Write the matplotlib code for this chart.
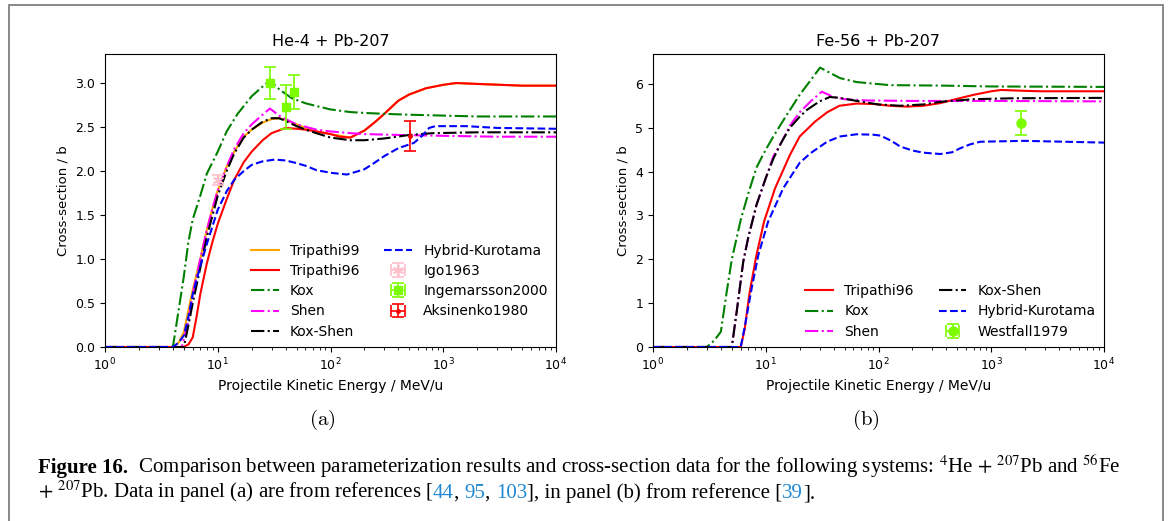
import matplotlib
matplotlib.use("Agg")
import matplotlib.pyplot as plt
from matplotlib.patches import Rectangle

# ---- He-4 + Pb-207 (panel a) ----
trip99_a_e = [1, 4.0, 4.5, 5.0, 5.5, 6.0, 7.0, 8.0, 9.0, 10, 12, 14, 17, 20, 25, 30, 35, 40, 50, 60, 75, 100,
              150, 200, 250, 300, 400, 500, 700, 1000, 1300, 2000, 5000, 10000]
trip99_a_v = [0, 0, 0.05, 0.17, 0.42, 0.65, 1.0, 1.33, 1.58, 1.78, 2.05, 2.22, 2.39, 2.47, 2.55, 2.59, 2.6, 2.58,
              2.53, 2.49, 2.45, 2.42, 2.38, 2.46, 2.56, 2.65, 2.8, 2.87, 2.94, 2.98, 3.0, 2.99, 2.97, 2.97]

trip96_a_e = [1, 5.0, 5.5, 6.0, 6.5, 7.0, 8.0, 9.0, 10, 12, 14, 17, 20, 25, 30, 40, 50, 60, 75, 100, 120,
              150, 200, 250, 300, 400, 500, 700, 1000, 1300, 2000, 5000, 10000]
trip96_a_v = [0, 0, 0.03, 0.11, 0.35, 0.6, 0.95, 1.2, 1.4, 1.68, 1.9, 2.1, 2.22, 2.35, 2.43, 2.49, 2.48, 2.47,
              2.45, 2.42, 2.39, 2.38, 2.46, 2.56, 2.65, 2.8, 2.87, 2.94, 2.98, 3.0, 2.99, 2.97, 2.97]

kox_a_e = [1, 4.0, 4.5, 5.0, 5.5, 6.0, 7.0, 8.0, 10, 12, 15, 20, 25, 29, 35, 45, 60, 80, 100, 150, 200, 300,
           500, 1000, 2000, 5000, 10000]
kox_a_v = [0, 0, 0.42, 0.8, 1.2, 1.45, 1.72, 1.97, 2.22, 2.45, 2.65, 2.85, 2.96, 3.03, 2.93, 2.83, 2.77, 2.73,
           2.7, 2.67, 2.66, 2.65, 2.64, 2.63, 2.62, 2.62, 2.62]

shen_a_e = [1, 4.8, 5.5, 6.0, 7.0, 8.0, 9.0, 10, 12, 14, 17, 20, 25, 29, 35, 40, 50, 75, 100, 150, 200, 400,
            1000, 3000, 10000]
shen_a_v = [0, 0, 0.3, 0.6, 1.0, 1.33, 1.58, 1.78, 2.05, 2.25, 2.43, 2.53, 2.64, 2.71, 2.63, 2.59, 2.53, 2.47,
            2.45, 2.43, 2.42, 2.41, 2.4, 2.39, 2.39]

koxshen_a_e = [1, 5.0, 5.5, 6.0, 7.0, 8.0, 9.0, 10, 12, 14, 17, 20, 25, 30, 35, 40, 50, 60, 75, 100, 150, 200,
               300, 500, 800, 2000, 10000]
koxshen_a_v = [0, 0, 0.25, 0.5, 0.9, 1.25, 1.5, 1.72, 2.0, 2.2, 2.38, 2.47, 2.56, 2.6, 2.6, 2.57, 2.51, 2.47,
               2.43, 2.38, 2.35, 2.35, 2.37, 2.41, 2.43, 2.44, 2.44]

hybrid_a_e = [1, 4.0, 4.5, 5.0, 5.5, 6.0, 7.0, 8.0, 10, 12, 14, 17, 20, 25, 32, 40, 50, 60, 75, 100, 140, 200,
              250, 300, 400, 550, 650, 750, 850, 1600, 3000, 10000]
hybrid_a_v = [0, 0, 0.05, 0.13, 0.35, 0.6, 0.92, 1.17, 1.56, 1.77, 1.9, 2.0, 2.07, 2.11, 2.13, 2.12, 2.09, 2.06,
              2.01, 1.98, 1.96, 2.02, 2.1, 2.17, 2.26, 2.32, 2.4, 2.49, 2.51, 2.51, 2.49, 2.48]

igo_e = [10.0]
igo_v = [1.9]
igo_err = [0.06]
inge_e = [28.8, 40.4, 47.3]
inge_v = [3.0, 2.73, 2.9]
inge_err = [0.18, 0.25, 0.19]
aks_e = [510]
aks_v = [2.40]
aks_err = [0.17]

# ---- Fe-56 + Pb-207 (panel b) ----
trip96_b_e = [1, 6.0, 6.5, 7.15, 8.2, 9.66, 12.1, 16.4, 20, 27.4, 35, 45, 64, 90, 126, 178, 250, 354, 500, 700,
              1000, 1220, 2000, 2750, 10000]
trip96_b_v = [0, 0, 0.4, 1.2, 2.05, 2.86, 3.62, 4.38, 4.8, 5.14, 5.35, 5.5, 5.55, 5.54, 5.5, 5.48, 5.5, 5.56,
              5.66, 5.75, 5.83, 5.86, 5.84, 5.83, 5.83]

kox_b_e = [1, 3.0, 3.5, 4.0, 4.5, 5.0, 6.0, 7.0, 8.3, 10, 12, 15, 20, 25, 30.3, 45.6, 64, 126, 354, 1000, 10000]
kox_b_v = [0, 0, 0.15, 0.35, 1.25, 2.0, 2.9, 3.5, 4.1, 4.5, 4.85, 5.25, 5.75, 6.08, 6.37, 6.13, 6.04, 5.97,
           5.96, 5.94, 5.93]

shen_b_e = [1, 5.0, 5.52, 6.32, 7.0, 8.3, 10, 11.7, 14, 16.4, 20, 25, 31.4, 40, 50, 80, 200, 1000, 10000]
shen_b_v = [0, 0, 0.8, 1.95, 2.5, 3.25, 3.85, 4.35, 4.7, 5.05, 5.35, 5.6, 5.82, 5.7, 5.65, 5.62, 5.61, 5.61, 5.6]

koxshen_b_e = [1, 5.0, 5.52, 6.32, 7.0, 8.3, 10, 11.7, 14, 16.4, 20, 23, 30, 37, 45, 64, 100, 156, 250, 354,
               700, 1500, 10000]
koxshen_b_v = [0, 0, 0.8, 1.95, 2.5, 3.25, 3.85, 4.3, 4.7, 5.0, 5.25, 5.4, 5.6, 5.7, 5.68, 5.61, 5.53, 5.5,
               5.53, 5.59, 5.65, 5.67, 5.68]

hybrid_b_e = [1, 6.0, 6.5, 7.5, 8.6, 10.5, 14.3, 20, 25, 35, 45.6, 64, 90, 104, 130, 156, 200, 250, 354, 450,
              530, 650, 800, 1950, 10000]
hybrid_b_v = [0, 0, 0.45, 1.34, 2.1, 2.86, 3.62, 4.2, 4.42, 4.68, 4.8, 4.85, 4.84, 4.82, 4.7, 4.57, 4.48, 4.43,
              4.4, 4.44, 4.53, 4.62, 4.68, 4.7, 4.66]

west_e = [1842]
west_v = [5.1]
west_err = [0.27]

W, H = 1170, 521
fig = plt.figure(figsize=(W / 100, H / 100), dpi=100)
fig.patch.set_facecolor("white")

ax_a = fig.add_axes([105 / W, 1 - 347 / H, 451 / W, 293 / H])
ax_b = fig.add_axes([653 / W, 1 - 347 / H, 451 / W, 293 / H])

lw = 1.5
dash_kw = dict(linestyle="-.", linewidth=lw)
leg_kw = dict(loc="lower right", ncol=2, frameon=False, fontsize=10, borderaxespad=0.2,
              labelspacing=0.45, columnspacing=1.8)

h = []
h += ax_a.plot(trip99_a_e, trip99_a_v, color="orange", linewidth=lw, label="Tripathi99")
h += ax_a.plot(trip96_a_e, trip96_a_v, color="red", linewidth=lw, label="Tripathi96")
h += ax_a.plot(kox_a_e, kox_a_v, color="green", label="Kox", **dash_kw)
h += ax_a.plot(shen_a_e, shen_a_v, color="magenta", label="Shen", **dash_kw)
h += ax_a.plot(koxshen_a_e, koxshen_a_v, color="black", label="Kox-Shen", **dash_kw)
h += ax_a.plot(hybrid_a_e, hybrid_a_v, color="blue", linestyle="--", linewidth=lw, label="Hybrid-Kurotama")
eb_kw = dict(capsize=4, elinewidth=1.2, capthick=1.2, linestyle="none")
h.append(ax_a.errorbar(igo_e, igo_v, yerr=igo_err, xerr=[0], marker=(6, 2, 0), ms=8, mew=1.2, color="pink",
                       label="Igo1963", **eb_kw))
h.append(ax_a.errorbar(inge_e, inge_v, yerr=inge_err, xerr=[0, 0, 0], marker="s", ms=6, color="lawngreen",
                       label="Ingemarsson2000", **eb_kw))
h.append(ax_a.errorbar(aks_e, aks_v, yerr=aks_err, xerr=[0], marker=".", ms=5, color="red",
                       label="Aksinenko1980", **eb_kw))
ax_a.legend(handles=h, **leg_kw)
ax_a.set_ylim(0, 3.33)
ax_a.set_title("He-4 + Pb-207", fontsize=11.5)

g = []
g += ax_b.plot(trip96_b_e, trip96_b_v, color="red", linewidth=lw, label="Tripathi96")
g += ax_b.plot(kox_b_e, kox_b_v, color="green", label="Kox", **dash_kw)
g += ax_b.plot(shen_b_e, shen_b_v, color="magenta", label="Shen", **dash_kw)
g += ax_b.plot(koxshen_b_e, koxshen_b_v, color="black", label="Kox-Shen", **dash_kw)
g += ax_b.plot(hybrid_b_e, hybrid_b_v, color="blue", linestyle="--", linewidth=lw, label="Hybrid-Kurotama")
g.append(ax_b.errorbar(west_e, west_v, yerr=west_err, xerr=[0], marker="o", ms=6.5, color="lawngreen",
                       label="Westfall1979", **eb_kw))
ax_b.legend(handles=g, **leg_kw)
ax_b.set_ylim(0, 6.68)
ax_b.set_title("Fe-56 + Pb-207", fontsize=11.5)

for ax in (ax_a, ax_b):
    ax.set_xscale("log")
    ax.set_xlim(1, 1e4)
    ax.set_xlabel("Projectile Kinetic Energy / MeV/u", fontsize=10)
    ax.set_ylabel("Cross-section / b", fontsize=9.5)
    ax.tick_params(labelsize=9)

# panel letters
fig.text(322 / W, 1 - 420 / H, r"$\mathrm{(a)}$", ha="center", va="center", fontsize=15, math_fontfamily="cm")
fig.text(866 / W, 1 - 420 / H, r"$\mathrm{(b)}$", ha="center", va="center", fontsize=15, math_fontfamily="cm")

# caption
cap_kw = dict(family="Liberation Serif", math_fontfamily="stix", fontsize=15, va="baseline")
blue = "#1f88d4"
renderer = fig.canvas.get_renderer()


def seg_width(s, **kw):
    t1 = fig.text(0, 0, "|" + s + "|", **kw)
    t2 = fig.text(0, 0, "||", **kw)
    w = t1.get_window_extent(renderer).width - t2.get_window_extent(renderer).width
    t1.remove()
    t2.remove()
    return w


def put_line(x, y, parts):
    for s, color, weight in parts:
        kw = dict(cap_kw, color=color, fontweight=weight)
        fig.text(x / W, 1 - y / H, s, **kw)
        x += seg_width(s, **kw)


put_line(38, 473, [
    ("Figure 16.", "black", "bold"),
    ("  Comparison between parameterization results and cross-section data for the following systems: "
     "$^{4}$He $+$ $^{207}$Pb and $^{56}$Fe", "black", "normal"),
])
put_line(38, 498, [
    ("$+$ $^{207}$Pb. Data in panel (a) are from references [", "black", "normal"),
    ("44", blue, "normal"), (", ", "black", "normal"),
    ("95", blue, "normal"), (", ", "black", "normal"),
    ("103", blue, "normal"),
    ("], in panel (b) from reference [", "black", "normal"),
    ("39", blue, "normal"), ("].", "black", "normal"),
])

# grey page frame
fig.patches.append(Rectangle((8.5 / W, -0.1), (1162.5 - 8.5) / W, 1.1 - 5 / H, transform=fig.transFigure,
                             fill=False, edgecolor="#808080", linewidth=1.3))

fig.savefig("out.png", dpi=100)
